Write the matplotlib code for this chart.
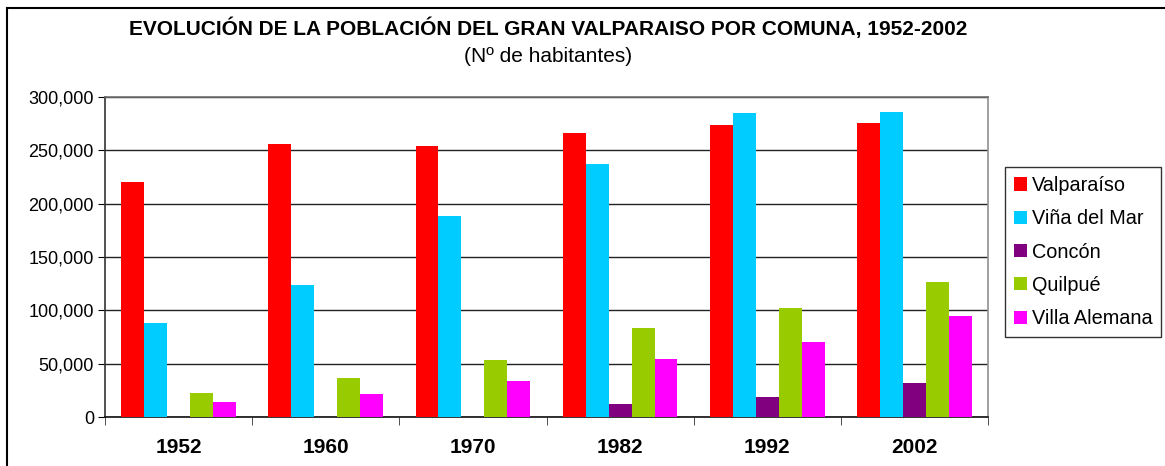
import numpy as np
import matplotlib.pyplot as plt
from matplotlib.patches import Rectangle
from matplotlib.ticker import FuncFormatter

plt.rcParams['font.family'] = ['Liberation Sans', 'DejaVu Sans']

years = ['1952', '1960', '1970', '1982', '1992', '2002']
comunas = ['Valparaíso', 'Viña del Mar', 'Concón', 'Quilpué', 'Villa Alemana']
valparaiso = [220300, 255600, 254000, 266500, 274000, 275600]
vina_del_mar = [88100, 123800, 188400, 236900, 284700, 285600]
concon = [0, 0, 0, 12200, 18400, 31900]
quilpue = [22800, 36600, 53700, 83700, 101900, 126600]
villa_alemana = [13800, 21300, 34000, 54700, 70300, 94700]
colores = ['#FF0000', '#00CCFF', '#800080', '#99CC00', '#FF00FF']

series = [valparaiso, vina_del_mar, concon, quilpue, villa_alemana]

fig = plt.figure(figsize=(11.65, 4.66), dpi=100)
# marco exterior del gráfico
fig.patches.append(Rectangle((7 / 1165, -0.05), 1.2, 1 - 8 / 466 + 0.05, transform=fig.transFigure,
                             fill=False, edgecolor='black', linewidth=1.5))

ax = fig.add_axes([105 / 1165, 49 / 466, 883 / 1165, 320 / 466])

x = np.arange(len(years))
w = 0.156
for i, (vals, nombre, c) in enumerate(zip(series, comunas, colores)):
    ax.bar(x + (i - 2) * w, vals, w, color=c, label=nombre, zorder=3)

ax.set_xlim(-0.5, len(years) - 0.5)
ax.set_ylim(0, 300000)
ax.set_yticks(np.arange(0, 300001, 50000))
ax.yaxis.set_major_formatter(FuncFormatter(lambda v, p: '{:,.0f}'.format(v)))
ax.grid(axis='y', color='#222222', linewidth=1, zorder=0)

ax.set_xticks(x)
ax.set_xticklabels(years, fontsize=15, fontweight='bold')
ax.set_xticks(np.arange(-0.5, len(years)), minor=True)
ax.tick_params(axis='x', which='major', length=0, pad=15)
ax.tick_params(axis='x', which='minor', length=6, direction='out', color='#333333')
ax.tick_params(axis='y', length=5, direction='out', labelsize=13, pad=3)

ax.spines['left'].set_color('#333333')
ax.spines['bottom'].set_color('#111111')
ax.spines['right'].set_color('#909090')
ax.spines['top'].set_color('#707070')
for s in ax.spines.values():
    s.set_linewidth(1.2)

fig.text(548 / 1165, 1 - 28 / 466, 'EVOLUCIÓN DE LA POBLACIÓN DEL GRAN VALPARAISO POR COMUNA, 1952-2002',
         ha='center', va='center', fontsize=15, fontweight='bold')
fig.text(548 / 1165, 1 - 56 / 466, '(Nº de habitantes)', ha='center', va='center', fontsize=15)

leg = fig.legend(loc='upper left', bbox_to_anchor=(1005 / 1165, 1 - 167 / 466), fontsize=14.3,
                 frameon=True, fancybox=False, edgecolor='black', handlelength=0.65,
                 handleheight=0.65, handletextpad=0.25, labelspacing=0.72, borderpad=0.45,
                 borderaxespad=0)
leg.get_frame().set_linewidth(1.0)

fig.savefig('out.png', dpi=100)
